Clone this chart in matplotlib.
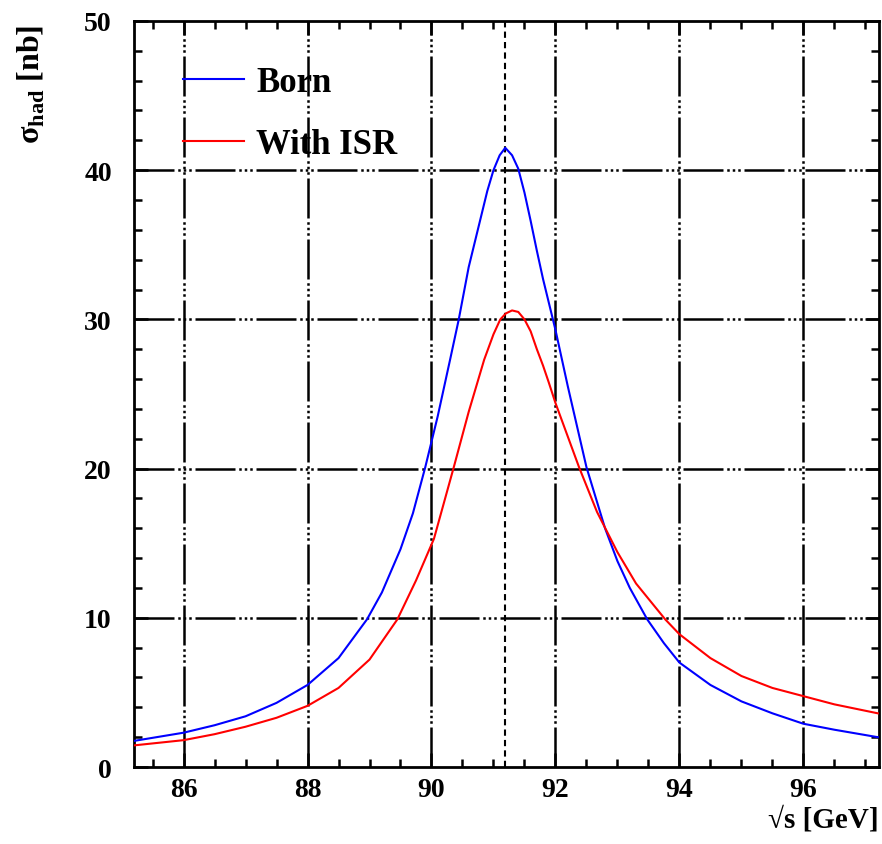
import matplotlib
matplotlib.use('Agg')
import matplotlib.pyplot as plt
import numpy as np

# hadronic cross section around the Z pole
born_E = [85.2, 86.0, 86.5, 87.0, 87.5, 88.0, 88.5, 88.96, 89.2, 89.5, 89.7,
          89.9, 90.1, 90.3, 90.44, 90.6, 90.7, 90.8, 90.9, 91.0, 91.1, 91.19,
          91.3, 91.4, 91.5, 91.6, 91.7, 91.8, 91.9, 92.0, 92.2, 92.5, 92.8,
          93.0, 93.2, 93.48, 93.75, 94.0, 94.5, 95.0, 95.5, 96.0, 96.5, 97.2]
born_sig = [1.75, 2.3, 2.8, 3.4, 4.3, 5.5, 7.3, 9.9, 11.7, 14.6, 17.0,
            20.1, 23.5, 27.3, 30.0, 33.5, 35.2, 36.9, 38.6, 40.0, 41.0, 41.5,
            41.0, 40.1, 38.5, 36.6, 34.6, 32.7, 31.0, 29.3, 25.5, 20.1, 16.0,
            13.8, 12.0, 9.9, 8.3, 7.0, 5.5, 4.4, 3.6, 2.9, 2.5, 2.0]

isr_E = [85.2, 86.0, 86.5, 87.0, 87.5, 88.0, 88.5, 89.0, 89.45, 89.75, 90.04,
         90.36, 90.6, 90.85, 91.0, 91.11, 91.2, 91.3, 91.4, 91.5, 91.6, 91.7,
         91.8, 91.89, 92.0, 92.38, 92.67, 93.0, 93.3, 93.77, 94.0, 94.5, 95.0,
         95.5, 96.0, 96.5, 97.2]
isr_sig = [1.45, 1.8, 2.2, 2.7, 3.3, 4.1, 5.3, 7.2, 9.9, 12.5, 15.3,
           20.1, 23.8, 27.3, 29.0, 30.0, 30.4, 30.6, 30.5, 30.0, 29.2, 28.0,
           26.9, 25.8, 24.4, 20.1, 17.1, 14.4, 12.3, 9.9, 8.9, 7.3, 6.1,
           5.3, 4.75, 4.2, 3.6]

mZ = 91.19
xticks = [86, 88, 90, 92, 94, 96]
yticks = [0, 10, 20, 30, 40, 50]

plt.rcParams['font.family'] = ['Liberation Serif', 'DejaVu Serif']
plt.rcParams['font.weight'] = 'bold'
plt.rcParams['mathtext.fontset'] = 'custom'
plt.rcParams['mathtext.rm'] = 'Liberation Serif'

fig = plt.figure(figsize=(8.82, 8.45), dpi=100)
ax = fig.add_axes([0.1519, 0.0911, 0.8447, 0.8829])

grid_ls = (0, (16, 1.5, 1, 1.2, 1, 1.2, 1, 1.5))
for x in xticks:
  ax.axvline(x, color='k', lw=1.8, ls=grid_ls, zorder=1)
for y in yticks[1:-1]:
  ax.axhline(y, color='k', lw=1.8, ls=grid_ls, zorder=1)
ax.axvline(mZ, color='k', lw=1.5, ls=(0, (3, 2)), zorder=1)

ax.plot(born_E, born_sig, color='#0000ff', lw=1.5, label='Born', zorder=3)
ax.plot(isr_E, isr_sig, color='#ff0000', lw=1.5, label='With ISR', zorder=3)

ax.set_xlim(85.2, 97.22)
ax.set_ylim(0, 50)
ax.set_xticks(xticks)
ax.set_yticks(yticks)
ax.set_xticks(np.arange(85.5, 97.3, 0.5), minor=True)
ax.set_yticks(np.arange(0, 50.1, 2), minor=True)
ax.tick_params(which='both', direction='in', top=True, right=True, width=1.8)
ax.tick_params(which='major', length=10, labelsize=20)
ax.tick_params(which='minor', length=6)
ax.tick_params(axis='y', which='major', pad=16)
ax.tick_params(axis='x', which='major', pad=7)
for sp in ax.spines.values():
  sp.set_linewidth(2)

ax.set_xlabel('√s [GeV]', fontsize=21, fontweight='bold', loc='right')
ax.xaxis.set_label_coords(1.0, -0.052)
ax.set_ylabel(r'σ$_{\rm had}$ [nb]', fontsize=23, fontweight='bold', loc='top')
ax.yaxis.set_label_coords(-0.117, 0.996)

ax.legend(loc='upper left', bbox_to_anchor=(0.0658, 0.94), frameon=False,
          fontsize=25, handlelength=1.75, handletextpad=0.36,
          labelspacing=0.84, borderpad=0, borderaxespad=0)

plt.savefig('out.png', dpi=100)
